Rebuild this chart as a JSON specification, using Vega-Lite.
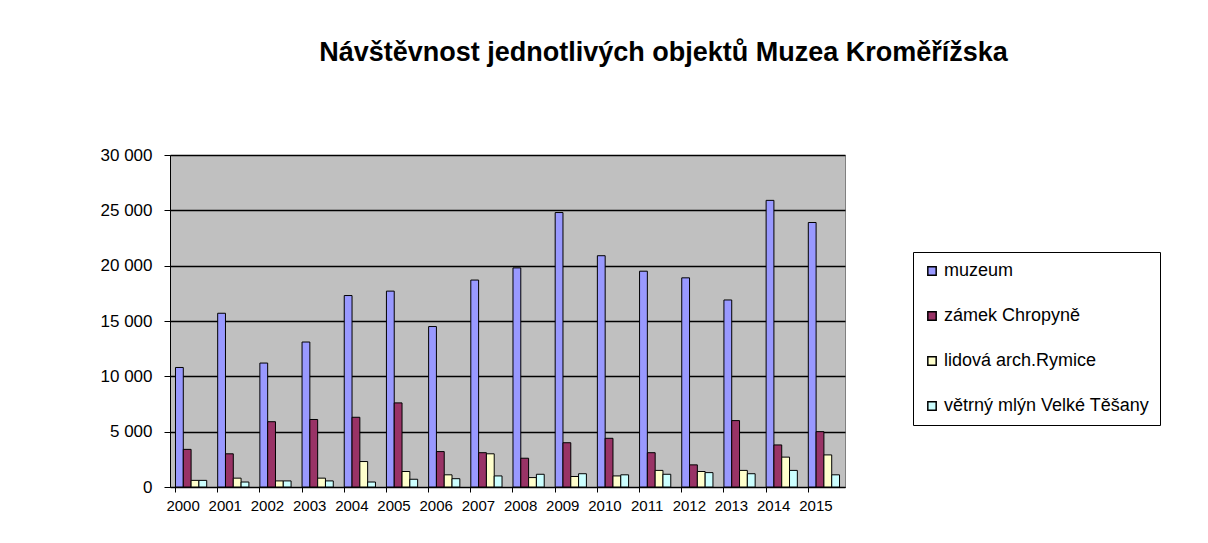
{
  "$schema": "https://vega.github.io/schema/vega-lite/v6.json",
  "width": 675,
  "height": 332,
  "autosize": "none",
  "padding": {"left": 170, "top": 155, "right": 363, "bottom": 56},
  "background": "white",
  "config": {
    "locale": {"number": {"decimal": ",", "thousands": " ", "grouping": [3], "currency": ["", " Kč"]}},
    "font": "Liberation Sans",
    "view": {"fill": "#C0C0C0", "stroke": "#808080", "strokeWidth": 1}
  },
  "title": {
    "text": "Návštěvnost jednotlivých objektů Muzea Kroměřížska",
    "font": "Liberation Sans",
    "fontSize": 27,
    "fontWeight": "bold",
    "color": "black",
    "anchor": "middle",
    "frame": "group",
    "dx": 156,
    "offset": 79
  },
  "data": {
    "values": [
      {"year": "2000", "s": "muzeum", "v": 10800}, {"year": "2000", "s": "zámek Chropyně", "v": 3400}, {"year": "2000", "s": "lidová arch.Rymice", "v": 600}, {"year": "2000", "s": "větrný mlýn Velké Těšany", "v": 600},
      {"year": "2001", "s": "muzeum", "v": 15700}, {"year": "2001", "s": "zámek Chropyně", "v": 3000}, {"year": "2001", "s": "lidová arch.Rymice", "v": 800}, {"year": "2001", "s": "větrný mlýn Velké Těšany", "v": 450},
      {"year": "2002", "s": "muzeum", "v": 11200}, {"year": "2002", "s": "zámek Chropyně", "v": 5900}, {"year": "2002", "s": "lidová arch.Rymice", "v": 550}, {"year": "2002", "s": "větrný mlýn Velké Těšany", "v": 550},
      {"year": "2003", "s": "muzeum", "v": 13100}, {"year": "2003", "s": "zámek Chropyně", "v": 6100}, {"year": "2003", "s": "lidová arch.Rymice", "v": 800}, {"year": "2003", "s": "větrný mlýn Velké Těšany", "v": 550},
      {"year": "2004", "s": "muzeum", "v": 17300}, {"year": "2004", "s": "zámek Chropyně", "v": 6300}, {"year": "2004", "s": "lidová arch.Rymice", "v": 2300}, {"year": "2004", "s": "větrný mlýn Velké Těšany", "v": 450},
      {"year": "2005", "s": "muzeum", "v": 17700}, {"year": "2005", "s": "zámek Chropyně", "v": 7600}, {"year": "2005", "s": "lidová arch.Rymice", "v": 1400}, {"year": "2005", "s": "větrný mlýn Velké Těšany", "v": 700},
      {"year": "2006", "s": "muzeum", "v": 14500}, {"year": "2006", "s": "zámek Chropyně", "v": 3200}, {"year": "2006", "s": "lidová arch.Rymice", "v": 1100}, {"year": "2006", "s": "větrný mlýn Velké Těšany", "v": 750},
      {"year": "2007", "s": "muzeum", "v": 18700}, {"year": "2007", "s": "zámek Chropyně", "v": 3100}, {"year": "2007", "s": "lidová arch.Rymice", "v": 3000}, {"year": "2007", "s": "větrný mlýn Velké Těšany", "v": 1000},
      {"year": "2008", "s": "muzeum", "v": 19800}, {"year": "2008", "s": "zámek Chropyně", "v": 2600}, {"year": "2008", "s": "lidová arch.Rymice", "v": 850}, {"year": "2008", "s": "větrný mlýn Velké Těšany", "v": 1150},
      {"year": "2009", "s": "muzeum", "v": 24800}, {"year": "2009", "s": "zámek Chropyně", "v": 4000}, {"year": "2009", "s": "lidová arch.Rymice", "v": 950}, {"year": "2009", "s": "větrný mlýn Velké Těšany", "v": 1200},
      {"year": "2010", "s": "muzeum", "v": 20900}, {"year": "2010", "s": "zámek Chropyně", "v": 4400}, {"year": "2010", "s": "lidová arch.Rymice", "v": 1000}, {"year": "2010", "s": "větrný mlýn Velké Těšany", "v": 1100},
      {"year": "2011", "s": "muzeum", "v": 19500}, {"year": "2011", "s": "zámek Chropyně", "v": 3100}, {"year": "2011", "s": "lidová arch.Rymice", "v": 1500}, {"year": "2011", "s": "větrný mlýn Velké Těšany", "v": 1150},
      {"year": "2012", "s": "muzeum", "v": 18900}, {"year": "2012", "s": "zámek Chropyně", "v": 2000}, {"year": "2012", "s": "lidová arch.Rymice", "v": 1400}, {"year": "2012", "s": "větrný mlýn Velké Těšany", "v": 1300},
      {"year": "2013", "s": "muzeum", "v": 16900}, {"year": "2013", "s": "zámek Chropyně", "v": 6000}, {"year": "2013", "s": "lidová arch.Rymice", "v": 1500}, {"year": "2013", "s": "větrný mlýn Velké Těšany", "v": 1200},
      {"year": "2014", "s": "muzeum", "v": 25900}, {"year": "2014", "s": "zámek Chropyně", "v": 3800}, {"year": "2014", "s": "lidová arch.Rymice", "v": 2700}, {"year": "2014", "s": "větrný mlýn Velké Těšany", "v": 1500},
      {"year": "2015", "s": "muzeum", "v": 23900}, {"year": "2015", "s": "zámek Chropyně", "v": 5000}, {"year": "2015", "s": "lidová arch.Rymice", "v": 2900}, {"year": "2015", "s": "větrný mlýn Velké Těšany", "v": 1100}
    ]
  },
  "mark": {"type": "bar", "stroke": "black", "strokeWidth": 1},
  "encoding": {
    "x": {
      "field": "year", "type": "nominal", "sort": null,
      "scale": {"paddingInner": 0.26, "paddingOuter": 0.13},
      "axis": {
        "title": null, "labelAngle": 0, "labelFontSize": 15, "labelColor": "black",
        "labelFont": "Liberation Sans", "domainColor": "black", "tickColor": "black",
        "tickSize": 5, "labelPadding": 6, "bandPosition": 0, "labelOffset": -8
      }
    },
    "xOffset": {"field": "s", "type": "nominal", "sort": ["muzeum", "zámek Chropyně", "lidová arch.Rymice", "větrný mlýn Velké Těšany"], "scale": {"paddingInner": 0}},
    "y": {
      "field": "v", "type": "quantitative",
      "scale": {"domain": [0, 30000], "nice": false},
      "axis": {
        "title": null, "values": [0, 5000, 10000, 15000, 20000, 25000, 30000],
        "format": ",d", "labelFontSize": 17, "labelColor": "black",
        "labelFont": "Liberation Sans",
        "gridColor": "black", "gridWidth": 1.6, "domainColor": "black",
        "tickColor": "black", "tickSize": 6, "labelPadding": 12
      }
    },
    "color": {
      "field": "s", "type": "nominal",
      "sort": ["muzeum", "zámek Chropyně", "lidová arch.Rymice", "větrný mlýn Velké Těšany"],
      "scale": {
        "domain": ["muzeum", "zámek Chropyně", "lidová arch.Rymice", "větrný mlýn Velké Těšany"],
        "range": ["#9999FF", "#993366", "#FFFFCC", "#CCFFFF"]
      },
      "legend": {
        "title": null, "orient": "none", "legendX": 743, "legendY": 97,
        "strokeColor": "black", "fillColor": "white", "padding": 10,
        "symbolType": "square", "symbolSize": 70, "symbolStrokeColor": "black",
        "symbolStrokeWidth": 1.5, "symbolOpacity": 1,
        "labelFontSize": 18, "labelColor": "black", "labelFont": "Liberation Sans",
        "rowPadding": 27, "labelOffset": 3, "labelLimit": 400
      }
    }
  }
}
